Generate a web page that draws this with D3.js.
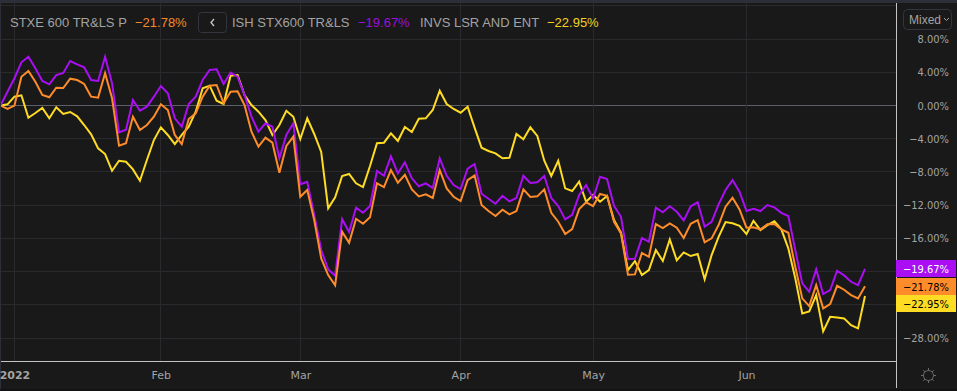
<!DOCTYPE html>
<html>
<head>
<meta charset="utf-8">
<script src="https://cdn.jsdelivr.net/npm/d3@7"></script>
<style>
    html, body { margin: 0; padding: 0; background: #131313; overflow: hidden; }
    svg { display: block; }
    .legend { font: 13px "Liberation Sans", Arial, sans-serif; }
    .axis text { font-family: "DejaVu Sans Condensed", "DejaVu Sans", sans-serif; font-size: 11px; fill: #a3a3a3; }
    .axis.x text { font-family: "DejaVu Sans", sans-serif; }
    .axis path, .axis line { display: none; }
    .grid { stroke: #2a2a2e; stroke-width: 1; shape-rendering: crispEdges; }
    .line { fill: none; stroke-width: 2; stroke-linejoin: miter; }
</style>
</head>
<body>
<div id="chart"></div>
<script>
// % change, one value per trading day from 30 Dec 2021 to 24 Jun 2022
var stoxx = [0,-0.42,-0.02,3.47,4.16,2.87,1.27,0.99,2.14,2.11,3.23,3.07,2.59,1.06,0.94,3.88,0.87,-4.84,-4.55,-1.35,-2.95,-2.35,-1.35,0.14,-0.54,-3.55,-4.64,-1.63,-0.94,1.06,2.39,2.47,0.27,1.66,1.71,0.06,-3.16,-4.96,-3.88,-4.48,-8.10,-4.88,-3.76,-10.99,-10.18,-13.80,-18.41,-20.42,-21.66,-15.20,-16.53,-13.64,-14.24,-13.47,-9.37,-9.82,-7.77,-9.30,-8.34,-10.10,-10.94,-10.70,-11.14,-7.77,-9.98,-10.99,-11.51,-8.98,-8.41,-11.99,-12.71,-13.31,-12.55,-13.11,-12.71,-10.10,-11.02,-10.94,-10.10,-12.92,-14.00,-15.48,-14.88,-12.47,-11.66,-12.11,-10.66,-10.87,-14.00,-15.40,-20.39,-20.34,-17.77,-18.22,-14.28,-14.76,-14.19,-14.72,-15.96,-14.24,-13.80,-16.48,-16.00,-14.40,-12.19,-11.11,-12.51,-14.72,-14.67,-14.92,-14.31,-14.28,-14.92,-15.33,-19.42,-23.23,-24.16,-21.63,-24.43,-23.92,-21.71,-22.19,-22.83,-23.23,-21.78];
var ishares = [0,1.66,3.28,5.20,5.88,4.48,2.95,2.55,3.67,3.92,5.36,4.96,4.60,3.07,2.95,5.88,2.67,-3.23,-2.92,0.66,-0.63,-0.14,1.06,2.35,1.47,-1.54,-2.55,0.18,1.06,3.07,4.28,4.36,2.59,3.95,3.47,1.27,-1.35,-3.16,-2.14,-2.55,-6.36,-3.55,-2.14,-9.49,-9.18,-13.19,-17.41,-19.73,-20.51,-13.67,-15.24,-12.31,-12.92,-12.11,-7.89,-8.46,-6.12,-8.17,-6.84,-8.77,-9.73,-9.37,-9.94,-6.36,-8.46,-9.58,-10.06,-7.61,-7.05,-10.63,-11.23,-11.83,-10.87,-11.54,-11.14,-8.46,-9.34,-9.25,-8.49,-11.14,-12.11,-13.71,-13.16,-10.78,-9.58,-11.18,-8.58,-8.86,-12.07,-13.40,-18.49,-18.46,-15.96,-16.41,-12.31,-12.87,-12.14,-12.80,-13.83,-12.14,-11.66,-14.60,-14.00,-11.90,-10.18,-8.98,-10.39,-12.71,-12.43,-12.71,-11.99,-12.27,-12.92,-13.31,-17.41,-21.42,-22.43,-19.73,-22.71,-22.23,-19.90,-20.46,-21.23,-21.63,-19.67];
var invesco = [0,0.14,1.06,1.23,-1.47,-0.90,-0.30,-1.54,-0.22,-1.02,-0.78,-1.30,-2.35,-3.47,-5.16,-5.84,-7.86,-6.65,-6.77,-7.69,-9.06,-6.57,-4.16,-2.63,-3.55,-4.64,-3.55,-2.55,-0.75,2.07,2.39,0.58,0.18,3.59,3.67,1.27,0.06,-0.75,-1.75,-3.55,-2.35,-0.63,-1.35,-4.04,-1.54,-3.43,-5.60,-12.39,-11.06,-8.49,-8.25,-9.37,-9.82,-7.29,-4.55,-4.48,-3.35,-4.28,-2.59,-3.19,-1.59,-1.54,-0.54,1.78,0.18,-0.42,-0.87,-0.14,-2.67,-5.08,-5.48,-5.76,-6.36,-6.29,-3.43,-4.07,-2.63,-3.67,-6.65,-8.49,-6.65,-9.98,-10.30,-9.18,-11.59,-10.78,-11.59,-10.90,-13.80,-15.30,-19.82,-18.73,-20.42,-19.82,-17.41,-18.73,-16.12,-18.65,-17.69,-18.13,-17.89,-20.94,-18.01,-15.81,-14.04,-14.19,-14.48,-15.48,-13.88,-15.00,-14.40,-13.95,-14.92,-17.20,-20.82,-25.04,-24.80,-22.83,-27.20,-25.45,-25.52,-25.64,-26.45,-26.84,-22.95];

var seriesNames = ["STXE 600 TR&LS P", "ISH STX600 TR&LS", "INVS LSR AND ENT"];
var seriesLast = [-21.78, -19.67, -22.95];
var monthLabels = ["2022", "Feb", "Mar", "Apr", "May", "Jun"];
var monthIndex = [2, 23, 43, 66, 85, 107];
var yTicks = [8, 4, 0, -4, -8, -12, -16, -28];
var yGrid = [12, 8, 4, 0, -4, -8, -12, -16, -20, -24, -28];

var width = 957, height = 391,
    plotRight = 896, plotBottom = 361,
    purple = "#a90ff2", orange = "#ff8c2a", yellow = "#ffdc24";

function pct(v) {
    return d3.format(".2f")(Math.abs(v)).replace(/^/, v < 0 ? "\u2212" : "") + "%";
}

var svg = d3.select("#chart").append("svg")
    .attr("width", width)
    .attr("height", height);

svg.append("clipPath").attr("id", "clip-plot").append("rect")
    .attr("x", 1).attr("y", 3).attr("width", plotRight - 1).attr("height", plotBottom - 3);

svg.append("rect").attr("x", 0).attr("y", 3).attr("width", width).attr("height", height - 5).attr("fill", "#191919");
svg.append("rect").attr("x", 0).attr("y", 0).attr("width", width).attr("height", 3).attr("fill", "#2c2e38");
svg.append("rect").attr("x", 0).attr("y", 3).attr("width", 1).attr("height", height - 5).attr("fill", "#2c2e38");

var x = d3.scaleLinear().domain([0, 124]).range([0.5, 865]);
var y = d3.scaleLinear().domain([0, -28]).range([105.5, 338]);

// grid
svg.append("g").selectAll("line").data(yGrid).enter().append("line")
    .attr("class", "grid")
    .attr("x1", 1).attr("x2", plotRight)
    .attr("y1", function(d) { return y(d); })
    .attr("y2", function(d) { return y(d); })
    .style("stroke", function(d) { return d === 0 ? "#5e5e6a" : null; });

svg.append("g").selectAll("line").data(monthIndex).enter().append("line")
    .attr("class", "grid")
    .attr("y1", 3).attr("y2", plotBottom)
    .attr("x1", function(d) { return x(d); })
    .attr("x2", function(d) { return x(d); });

// series, orange ends up on top
var line = d3.line()
    .x(function(d, i) { return x(i); })
    .y(function(d) { return y(d); });

var plotArea = svg.append("g").attr("clip-path", "url(#clip-plot)");
[[invesco, yellow], [ishares, purple], [stoxx, orange]].forEach(function(s) {
    plotArea.append("path")
        .datum(s[0])
        .attr("class", "line")
        .attr("stroke", s[1])
        .attr("d", line);
});

// axis lines
svg.append("line").attr("x1", plotRight + 0.5).attr("x2", plotRight + 0.5).attr("y1", 3).attr("y2", 388)
    .attr("stroke", "#c4c4c4").style("shape-rendering", "crispEdges");
svg.append("line").attr("x1", 1).attr("x2", plotRight).attr("y1", plotBottom + 0.5).attr("y2", plotBottom + 0.5)
    .attr("stroke", "#c4c4c4").style("shape-rendering", "crispEdges");

var yAxis = d3.axisRight(y)
    .tickValues(yTicks)
    .tickSize(0)
    .tickPadding(0)
    .tickFormat(pct);
svg.append("g")
    .attr("class", "y axis")
    .attr("transform", "translate(949,0)")
    .call(yAxis)
    .selectAll("text").attr("text-anchor", "end");

var xAxis = d3.axisBottom(x)
    .tickValues(monthIndex)
    .tickSize(0)
    .tickPadding(0)
    .tickFormat(function(d, i) { return monthLabels[i]; });
svg.append("g")
    .attr("class", "x axis")
    .attr("transform", "translate(0,371)")
    .call(xAxis)
    .selectAll("text")
    .style("font-weight", function(d, i) { return i === 0 ? "bold" : null; });

// last value badges
var badges = [
    {v: seriesLast[1], top: 260, bg: purple, fg: "#ffffff"},
    {v: seriesLast[0], top: 278, bg: orange, fg: "#000000"},
    {v: seriesLast[2], top: 295, bg: yellow, fg: "#000000"}
];
badges.forEach(function(b) {
    svg.append("rect").attr("x", 896).attr("y", b.top).attr("width", 60).attr("height", 17).attr("fill", b.bg);
    svg.append("text").attr("class", "badge")
        .attr("x", 949).attr("y", b.top + 12.5).attr("text-anchor", "end")
        .attr("fill", b.fg)
        .style("font", '11px "DejaVu Sans Condensed", "DejaVu Sans", sans-serif')
        .text(pct(b.v));
});

// legend
var legend = svg.append("g").attr("class", "legend");
function legendText(px, txt, color) {
    legend.append("text").attr("x", px).attr("y", 27).attr("fill", color).text(txt);
}
legendText(10, seriesNames[0], "#a3a3a3");
legendText(135, pct(seriesLast[0]), "#f58a2a");
legendText(232, seriesNames[1], "#a3a3a3");
legendText(358, pct(seriesLast[1]), "#9a0fd8");
legendText(420, seriesNames[2], "#a3a3a3");
legendText(547, pct(seriesLast[2]), "#f5d21f");

svg.append("rect").attr("x", 198.5).attr("y", 12.5).attr("width", 28).attr("height", 20).attr("rx", 3)
    .attr("fill", "#191919").attr("stroke", "#33353f");
svg.append("path").attr("d", "M214,19 L211,22.5 L214,26")
    .attr("fill", "none").attr("stroke", "#c8c8c8").attr("stroke-width", 1.3);

// scale mode button
svg.append("rect").attr("x", 903.5).attr("y", 9.5).attr("width", 48).attr("height", 20).attr("rx", 4)
    .attr("fill", "#191919").attr("stroke", "#33353f");
svg.append("text").attr("x", 909).attr("y", 23.5).attr("fill", "#a3a3a3")
    .style("font", '12px "Liberation Sans", Arial, sans-serif').text("Mixed");
svg.append("path").attr("d", "M944,18 L946.5,20.5 L949,18")
    .attr("fill", "none").attr("stroke", "#a3a3a3").attr("stroke-width", 1);

// settings icon
var gear = svg.append("g").attr("transform", "translate(928.5,375.5)")
    .attr("stroke", "#6a6a70").attr("fill", "none");
gear.append("circle").attr("r", 5);
d3.range(8).forEach(function(i) {
    var a = i * Math.PI / 4;
    gear.append("line")
        .attr("x1", 5 * Math.cos(a)).attr("y1", 5 * Math.sin(a))
        .attr("x2", 7.5 * Math.cos(a)).attr("y2", 7.5 * Math.sin(a));
});
</script>
</body>
</html>
